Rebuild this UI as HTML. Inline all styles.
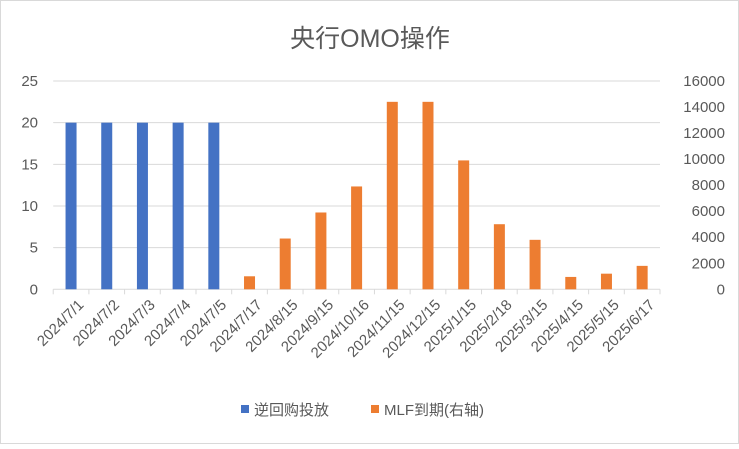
<!DOCTYPE html>
<html><head><meta charset="utf-8"><style>
body{margin:0;background:#fff;}
svg text{font-family:"Liberation Sans","Noto Sans CJK SC",sans-serif;fill:#595959;}
</style></head><body>
<svg id="c" width="739" height="444" xmlns="http://www.w3.org/2000/svg">
<rect x="0.5" y="0.5" width="738" height="443" fill="#fff" stroke="#d9d9d9"/>
<text x="370" y="47" text-anchor="middle" font-size="25">央行OMO操作</text>
<g id="plot"></g>
<g>
<rect x="241" y="405" width="8" height="8" fill="#4472C4"/>
<text x="254" y="415" font-size="15">逆回购投放</text>
<rect x="371" y="405" width="8" height="8" fill="#ED7D31"/>
<text x="384" y="415" font-size="15">MLF到期(右轴)</text>
</g>
</svg>
<script>
const categories=["2024/7/1","2024/7/2","2024/7/3","2024/7/4","2024/7/5","2024/7/17","2024/8/15","2024/9/15","2024/10/16","2024/11/15","2024/12/15","2025/1/15","2025/2/18","2025/3/15","2025/4/15","2025/5/15","2025/6/17"];
const repoValues=[20,20,20,20,20,null,null,null,null,null,null,null,null,null,null,null,null];
const mlfValues=[null,null,null,null,null,1000,3900,5900,7900,14400,14400,9900,5000,3800,950,1200,1800];
const leftTicks=[0,5,10,15,20,25];
const rightTicks=[0,2000,4000,6000,8000,10000,12000,14000,16000];
const NS="http://www.w3.org/2000/svg";
const g=document.getElementById('plot');
const X0=53.2,X1=660,Y0=289.3,Y1=81;
const step=(X1-X0)/categories.length;
const yL=v=>Y0-(v/25)*(Y0-Y1);
const yR=v=>Y0-(v/16000)*(Y0-Y1);
const xC=i=>X0+step*(i+0.5);
function mk(t,a){const e=document.createElementNS(NS,t);for(const k in a)e.setAttribute(k,a[k]);g.appendChild(e);return e;}
leftTicks.forEach(v=>{
 if(v>0){const l=mk('line',{x1:X0,x2:X1,y1:yL(v),y2:yL(v),stroke:'#d9d9d9','stroke-width':1});
 
 }
 const t=mk('text',{x:38,y:yL(v)+5,'text-anchor':'end','font-size':15});t.textContent=v;
 
 
});
rightTicks.forEach(v=>{
 const t=mk('text',{x:725,y:yR(v)+5,'text-anchor':'end','font-size':15});t.textContent=v;
 
 
});
const ax=mk('line',{x1:X0,x2:X1,y1:Y0,y2:Y0,stroke:'#d9d9d9','stroke-width':1});


for(let i=0;i<=categories.length;i++){
 const tk=mk('line',{x1:X0+step*i,x2:X0+step*i,y1:Y0,y2:Y0+5,stroke:'#d9d9d9'});
 
 
}
const bw=11;
categories.forEach((c,i)=>{
 if(repoValues[i]!=null){const r=mk('rect',{x:xC(i)-bw/2,y:yL(repoValues[i]),width:bw,height:Y0-yL(repoValues[i]),fill:'#4472C4'});
 
 }
 if(mlfValues[i]!=null){const r=mk('rect',{x:xC(i)-bw/2,y:yR(mlfValues[i]),width:bw,height:Y0-yR(mlfValues[i]),fill:'#ED7D31'});
 
 }
 const x=xC(i)+6,y=Y0+9;
 const t=mk('text',{x:x,y:y,'text-anchor':'end','font-size':15,transform:`rotate(-45 ${x} ${y})`,dy:'0.7em'});
 t.textContent=c;
 
 
});
</script>
</body></html>
